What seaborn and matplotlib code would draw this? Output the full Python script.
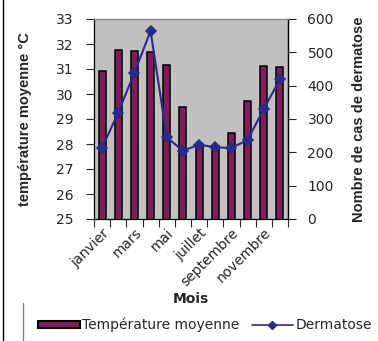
import numpy as np
import pandas as pd
import matplotlib
matplotlib.use("Agg")
import matplotlib.pyplot as plt
from matplotlib.lines import Line2D
from matplotlib.patches import Patch
import seaborn as sns

mois = ["janvier", "février", "mars", "avril", "mai", "juin", "juillet",
        "août", "septembre", "octobre", "novembre", "décembre"]
temperature = [30.92, 31.75, 31.71, 31.67, 31.15, 29.47, 28.0, 27.92, 28.43, 29.71, 31.11, 31.07]
dermatose = [214, 319, 439, 564, 245, 205, 223, 215, 213, 237, 330, 419]
temp_ticks = [25, 26, 27, 28, 29, 30, 31, 32, 33]
derm_ticks = [0, 100, 200, 300, 400, 500, 600]

df = pd.DataFrame({"Mois": mois, "Température moyenne": temperature, "Dermatose": dermatose})

sns.set_style("ticks")
plt.rcParams["font.family"] = ["DejaVu Sans"]

bar_color = "#7D1E5A"
line_color = "#2A2A8A"
label_font = {"family": ["Liberation Sans", "DejaVu Sans"], "weight": "bold", "size": 10.5}

fig = plt.figure(figsize=(3.78, 3.41), dpi=100)
ax = fig.add_axes([94/378, 1-219/341, (288-94)/378, (219-19)/341])
ax.set_facecolor("#C0C0C0")

sns.barplot(data=df, x="Mois", y="Température moyenne", ax=ax, color=bar_color,
            width=0.43, edgecolor="black", linewidth=1.1, saturation=1)
ax.set_ylim(25, 33)
ax.set_yticks(temp_ticks)
ax.tick_params(axis="y", labelsize=10, length=6, width=0.8, direction="out", pad=9)
ax.set_ylabel("température moyenne °C", fontdict=label_font, labelpad=17)

ax2 = ax.twinx()
sns.pointplot(data=df, x="Mois", y="Dermatose", ax=ax2, color=line_color,
              markers="D", linestyles="-", markersize=5, linewidth=1.5)
ax2.set_ylim(0, 600)
ax2.set_yticks(derm_ticks)
ax2.tick_params(axis="y", labelsize=10, length=6, width=0.8, direction="out", pad=8)
ax2.set_ylabel("Nombre de cas de dermatose", fontdict=label_font, labelpad=13)

n = len(mois)
ax.set_xlim(-0.5, n - 0.5)
ax.set_xticks(np.arange(-0.5, n, 1.0))
ax.set_xticklabels([""] * (n + 1))
ax.set_xticks(np.arange(0, n, 2), minor=True)
ax.set_xticklabels(mois[::2], minor=True, rotation=45, ha="right",
                   rotation_mode="anchor", fontsize=10)
ax.tick_params(axis="x", which="major", length=6, width=0.8, direction="out")
ax.tick_params(axis="x", which="minor", length=0, pad=5)
ax.set_xlabel("Mois", fontsize=10, fontweight="bold", labelpad=2)
ax2.set_xlabel("")

for a in (ax, ax2):
    for s in a.spines.values():
        s.set_color("black")
        s.set_linewidth(0.9)
    a.spines["top"].set_color("#909090")
ax2.spines["left"].set_visible(False)
ax2.spines["bottom"].set_visible(False)

handles = [Patch(facecolor=bar_color, edgecolor="black", linewidth=1.5),
           Line2D([], [], color=line_color, marker="D", markersize=4, linewidth=1.2)]
fig.legend(handles, ["Température moyenne", "Dermatose"], loc="center",
           bbox_to_anchor=(205/378, 1-325/341), ncol=2, frameon=False, fontsize=10,
           handlelength=3.0, handleheight=0.45, handletextpad=0.15, columnspacing=0.9)

fig.add_artist(Line2D([3/378, 3/378], [0, 1], transform=fig.transFigure, color="black", lw=1))
fig.add_artist(Line2D([23/378, 23/378], [1-303/341, 0.003], transform=fig.transFigure, color="#808080", lw=1))

fig.savefig("out.png", dpi=100)
